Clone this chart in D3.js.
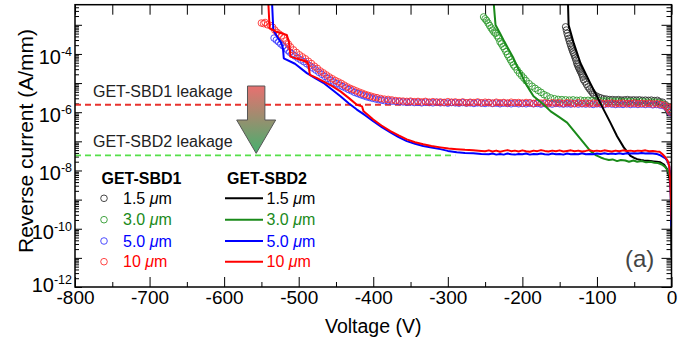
<!doctype html>
<html lang="en">
<head>
<meta charset="utf-8">
<title>Reverse current vs voltage</title>
<script src="https://d3js.org/d3.v7.min.js"></script>
<style>
  body { margin: 0; background: #fff; }
  svg text { font-family: "Liberation Sans", Arial, sans-serif; }
</style>
</head>
<body>
<div id="chart"></div>
<script>

// ---- data: [voltage (V), reverse current (A/mm)] ----

// GET-SBD1 (open circles)
var sbd1_15 = [[-142,8.5e-4],[-141,6.6e-4],[-140,5.1e-4],[-139,4.2e-4],[-138,3.4e-4],[-137,2.8e-4],[-136,2.3e-4],[-135,1.9e-4],
  [-134,1.6e-4],[-133,1.35e-4],[-132,1.15e-4],[-131,1.0e-4],[-130,8.5e-5],[-129,7.2e-5],[-128,6.0e-5],[-127,4.8e-5],[-126,4.2e-5],
  [-125,3.6e-5],[-124,3.2e-5],[-123,2.8e-5],[-122,2.5e-5],[-121,2.2e-5],[-120,1.9e-5],[-119,1.6e-5],[-118,1.3e-5],[-116,1.1e-5],
  [-114,9.0e-6],[-112,7.4e-6],[-110,6.3e-6],[-108,5.4e-6],[-106,4.6e-6],[-104,4.0e-6],[-101,3.6e-6],[-98,3.3e-6],[-95,3.1e-6],
  [-91,2.9e-6],[-87,2.8e-6],[-83,2.7e-6],[-79,2.7e-6],[-75,2.65e-6],[-71,2.7e-6],[-67,2.6e-6],[-63,2.65e-6],[-59,2.7e-6],
  [-55,2.6e-6],[-51,2.65e-6],[-47,2.6e-6],[-43,2.65e-6],[-39,2.55e-6],[-35,2.6e-6],[-31,2.55e-6],[-27,2.6e-6],[-23,2.5e-6],
  [-19,2.55e-6],[-16,2.3e-6],[-12,2.2e-6],[-8,1.8e-6],[-5,1.3e-6],[-3,1.0e-6]];

var sbd1_30 = [[-252,1.86e-3],[-250,1.6e-3],[-248,1.4e-3],[-246,1.15e-3],[-244,9.5e-4],[-242,7.8e-4],[-240,6.6e-4],[-238,5.6e-4],
  [-236,5.1e-4],[-234,4.2e-4],[-232,3.5e-4],[-230,2.6e-4],[-228,2.2e-4],[-226,1.8e-4],[-224,1.5e-4],[-222,1.2e-4],[-220,9.5e-5],
  [-218,7.8e-5],[-216,6.3e-5],[-214,5.2e-5],[-212,4.2e-5],[-210,3.6e-5],[-207,2.8e-5],[-204,2.2e-5],[-201,1.8e-5],[-198,1.48e-5],
  [-195,1.2e-5],[-191,9.5e-6],[-187,7.8e-6],[-183,6.6e-6],[-179,5.6e-6],[-175,4.8e-6],[-171,4.0e-6],[-167,3.6e-6],[-162,3.1e-6],
  [-157,2.9e-6],[-152,2.75e-6],[-147,2.7e-6],[-142,2.65e-6],[-137,2.6e-6],[-132,2.65e-6],[-127,2.55e-6],[-122,2.6e-6],[-117,2.5e-6],
  [-112,2.55e-6],[-107,2.5e-6],[-102,2.45e-6],[-97,2.5e-6],[-92,2.4e-6],[-87,2.45e-6],[-82,2.4e-6],[-77,2.35e-6],[-72,2.4e-6],
  [-67,2.35e-6],[-62,2.3e-6],[-57,2.35e-6],[-52,2.3e-6],[-47,2.25e-6],[-42,2.3e-6],[-37,2.25e-6],[-32,2.2e-6],[-27,2.25e-6],
  [-22,2.2e-6],[-17,2.1e-6],[-12,1.95e-6],[-7,1.6e-6],[-4,1.2e-6]];

var sbd1_50 = [[-533,3.5e-4],[-530,3.0e-4],[-527,2.6e-4],[-524,2.2e-4],[-521,1.9e-4],[-518,1.6e-4],[-515,1.35e-4],[-512,1.15e-4],
  [-509,1.0e-4],[-505,8.5e-5],[-501,7.2e-5],[-497,6.2e-5],[-493,5.4e-5],[-489,4.6e-5],[-485,3.9e-5],[-481,3.3e-5],[-477,2.8e-5],
  [-473,2.35e-5],[-469,2.0e-5],[-465,1.7e-5],[-461,1.45e-5],[-457,1.25e-5],[-453,1.08e-5],[-449,9.5e-6],[-445,8.5e-6],[-441,7.6e-6],
  [-437,6.8e-6],[-433,6.0e-6],[-429,5.4e-6],[-425,4.8e-6],[-421,4.4e-6],[-417,4.0e-6],[-413,3.7e-6],[-409,3.4e-6],[-405,3.2e-6],
  [-401,3.0e-6],[-397,2.85e-6],[-393,2.7e-6],[-389,2.6e-6],[-385,2.5e-6],[-380,2.45e-6],[-375,2.4e-6],[-370,2.35e-6],[-365,2.3e-6],
  [-360,2.25e-6],[-355,2.2e-6],[-350,2.25e-6],[-345,2.15e-6],[-340,2.2e-6],[-335,2.1e-6],[-330,2.2e-6],[-325,2.15e-6],[-320,2.1e-6],
  [-315,2.2e-6],[-310,2.1e-6],[-305,2.15e-6],[-300,2.05e-6],[-295,2.15e-6],[-290,2.1e-6],[-285,2.05e-6],[-280,2.15e-6],[-275,2.05e-6],
  [-270,2.1e-6],[-265,2.0e-6],[-260,2.1e-6],[-255,2.05e-6],[-250,2.0e-6],[-245,2.1e-6],[-240,2.0e-6],[-235,2.05e-6],[-230,1.95e-6],
  [-225,2.05e-6],[-220,2.0e-6],[-215,1.95e-6],[-210,2.05e-6],[-205,1.95e-6],[-200,2.0e-6],[-195,1.95e-6],[-190,2.05e-6],[-185,1.95e-6],
  [-180,2.0e-6],[-175,1.9e-6],[-170,2.0e-6],[-165,1.95e-6],[-160,1.9e-6],[-155,2.0e-6],[-150,1.95e-6],[-145,1.9e-6],[-140,1.95e-6],
  [-135,1.9e-6],[-130,2.0e-6],[-125,1.9e-6],[-120,1.95e-6],[-115,1.9e-6],[-110,1.95e-6],[-105,1.85e-6],[-100,1.95e-6],[-95,1.9e-6],
  [-90,1.85e-6],[-85,1.95e-6],[-80,1.9e-6],[-75,1.85e-6],[-70,1.9e-6],[-65,1.85e-6],[-60,1.95e-6],[-55,1.85e-6],[-50,1.9e-6],
  [-45,1.85e-6],[-40,1.9e-6],[-35,1.85e-6],[-30,1.9e-6],[-25,1.8e-6],[-20,1.85e-6],[-15,1.75e-6],[-10,1.65e-6],[-6,1.45e-6],
  [-3,1.15e-6],[-1,9.5e-7]];

var sbd1_10 = [[-550,1.15e-3],[-547,1.1e-3],[-545,1.2e-3],[-542,1.0e-3],[-538,9.5e-4],[-535,8.3e-4],[-532,6.6e-4],[-529,5.5e-4],
  [-526,4.8e-4],[-523,4.2e-4],[-520,3.5e-4],[-517,2.8e-4],[-514,2.2e-4],[-511,1.74e-4],[-507,1.38e-4],[-503,1.12e-4],[-499,9.3e-5],
  [-495,7.9e-5],[-491,6.8e-5],[-487,5.6e-5],[-483,4.7e-5],[-479,3.8e-5],[-475,3.2e-5],[-471,2.6e-5],[-467,2.24e-5],[-463,1.9e-5],
  [-459,1.62e-5],[-455,1.41e-5],[-451,1.23e-5],[-447,1.1e-5],[-443,9.8e-6],[-439,8.5e-6],[-435,7.4e-6],[-431,6.6e-6],[-427,6.0e-6],
  [-423,5.4e-6],[-419,4.9e-6],[-415,4.5e-6],[-411,4.1e-6],[-407,3.8e-6],[-403,3.55e-6],[-399,3.3e-6],[-395,3.16e-6],[-390,2.95e-6],
  [-385,2.8e-6],[-380,2.75e-6],[-375,2.63e-6],[-370,2.5e-6],[-365,2.45e-6],[-360,2.4e-6],[-355,2.35e-6],[-350,2.4e-6],[-345,2.3e-6],
  [-340,2.35e-6],[-335,2.25e-6],[-330,2.35e-6],[-325,2.2e-6],[-320,2.3e-6],[-315,2.2e-6],[-310,2.25e-6],[-305,2.15e-6],[-300,2.3e-6],
  [-295,2.2e-6],[-290,2.25e-6],[-285,2.15e-6],[-280,2.25e-6],[-275,2.1e-6],[-270,2.2e-6],[-265,2.15e-6],[-260,2.25e-6],[-255,2.1e-6],
  [-250,2.2e-6],[-245,2.15e-6],[-240,2.05e-6],[-235,2.2e-6],[-230,2.1e-6],[-225,2.15e-6],[-220,2.05e-6],[-215,2.2e-6],[-210,2.1e-6],
  [-205,2.15e-6],[-200,2.05e-6],[-195,2.15e-6],[-190,2.1e-6],[-185,2.0e-6],[-180,2.15e-6],[-175,2.05e-6],[-170,2.1e-6],[-165,2.0e-6],
  [-160,2.1e-6],[-155,2.05e-6],[-150,2.1e-6],[-145,2.0e-6],[-140,2.1e-6],[-135,2.05e-6],[-130,1.95e-6],[-125,2.1e-6],[-120,2.0e-6],
  [-115,2.05e-6],[-110,1.95e-6],[-105,2.05e-6],[-100,2.0e-6],[-95,2.05e-6],[-90,1.95e-6],[-85,2.0e-6],[-80,2.05e-6],[-75,1.95e-6],
  [-70,2.0e-6],[-65,2.05e-6],[-60,1.95e-6],[-55,2.0e-6],[-50,2.05e-6],[-45,1.95e-6],[-40,2.0e-6],[-35,1.95e-6],[-30,2.0e-6],
  [-25,1.9e-6],[-20,1.95e-6],[-15,1.85e-6],[-10,1.75e-6],[-6,1.5e-6],[-3,1.2e-6],[-1,1.0e-6]];

// GET-SBD2 (solid lines)
var sbd2_15 = [[-139,8e-3],[-138,9.8e-4],[-131,2.3e-4],[-122,4.8e-5],[-109,1.0e-5],[-100,3.55e-6],[-91,1.23e-6],[-82,4.4e-7],
  [-73,1.5e-7],[-64,6.2e-8],[-55,3.16e-8],[-50,2.7e-8],[-46,2.45e-8],[-41,2.3e-8],[-37,2.2e-8],[-32,2.15e-8],[-28,2.1e-8],
  [-24,2.05e-8],[-20,2.0e-8],[-15,1.9e-8],[-10,1.6e-8],[-6,1.12e-8],[-3,6e-9],[-1,2.3e-9],[0,1.05e-11]];

var sbd2_30 = [[-239,8e-3],[-236,9.8e-4],[-230,5.1e-4],[-224,2.6e-4],[-218,1.38e-4],[-212,7.2e-5],[-207,3.7e-5],[-201,1.9e-5],
  [-196,1.0e-5],[-190,5.6e-6],[-185,3.55e-6],[-173,2.0e-6],[-162,1.07e-6],[-151,6.9e-7],[-140,4.4e-7],[-129,2.0e-7],[-118,9.1e-8],
  [-109,4.7e-8],[-101,3.3e-8],[-95,2.8e-8],[-90,2.5e-8],[-84,2.3e-8],[-79,2.4e-8],[-73,2.1e-8],[-68,2.3e-8],[-62,2.2e-8],[-57,2.0e-8],
  [-51,2.2e-8],[-46,2.0e-8],[-40,2.1e-8],[-34,1.9e-8],[-28,2.0e-8],[-23,1.85e-8],[-18,1.8e-8],[-13,1.6e-8],[-9,1.35e-8],[-5,1.0e-8],
  [-3,7.5e-9],[-1,5e-9],[0,3e-9]];

var sbd2_50 = [[-536,8e-3],[-534,6.6e-4],[-528,3.6e-4],[-523,2.3e-4],[-521,1.5e-4],[-520,7.1e-5],[-505,4.6e-5],[-489,2.2e-5],
  [-478,1.48e-5],[-467,1.02e-5],[-455,5.9e-6],[-444,3.55e-6],[-433,2.04e-6],[-422,1.23e-6],[-411,7.9e-7],[-400,4.9e-7],[-388,3.0e-7],
  [-377,2.04e-7],[-366,1.4e-7],[-355,1.02e-7],[-344,8.3e-8],[-333,6.9e-8],[-320,6.0e-8],[-310,5.4e-8],[-300,4.7e-8],[-288,4.2e-8],
  [-277,4.0e-8],[-266,3.9e-8],[-255,3.7e-8],[-245,3.6e-8],[-240,3.8e-8],[-235,3.5e-8],[-230,3.7e-8],[-225,3.5e-8],[-220,3.8e-8],
  [-215,3.6e-8],[-210,3.5e-8],[-205,3.7e-8],[-200,3.6e-8],[-195,3.8e-8],[-190,3.5e-8],[-185,3.7e-8],[-180,3.6e-8],[-175,3.8e-8],
  [-170,3.6e-8],[-165,3.5e-8],[-160,3.8e-8],[-155,3.6e-8],[-150,3.7e-8],[-145,3.5e-8],[-140,3.8e-8],[-135,3.6e-8],[-130,3.7e-8],
  [-125,3.6e-8],[-120,3.9e-8],[-115,3.6e-8],[-110,3.7e-8],[-105,3.6e-8],[-100,3.8e-8],[-95,3.7e-8],[-90,3.9e-8],[-85,3.7e-8],
  [-80,3.8e-8],[-75,3.7e-8],[-70,3.9e-8],[-65,3.7e-8],[-60,3.9e-8],[-55,3.8e-8],[-50,3.9e-8],[-45,3.8e-8],[-40,4.0e-8],[-35,3.8e-8],
  [-30,3.9e-8],[-25,3.8e-8],[-20,3.7e-8],[-16,3.4e-8],[-12,3.0e-8],[-8,2.6e-8],[-5,2.0e-8],[-3,1.4e-8],[-2,7e-9],[-1,1.5e-9],
  [0,1.2e-10]];

var sbd2_10 = [[-541,8e-3],[-539,7.6e-4],[-530,5.8e-4],[-522,5.0e-4],[-516,4.5e-4],[-513,2.5e-4],[-511,8.1e-5],[-500,6.6e-5],
  [-489,5.4e-5],[-487,4.3e-5],[-485,1.9e-5],[-476,1.5e-5],[-467,1.15e-5],[-455,7.9e-6],[-444,5.2e-6],[-433,3.1e-6],[-422,1.8e-6],
  [-415,1.58e-6],[-413,1.07e-6],[-407,8.0e-7],[-400,5.6e-7],[-389,3.5e-7],[-377,2.24e-7],[-366,1.6e-7],[-355,1.17e-7],[-344,9.3e-8],
  [-333,7.9e-8],[-322,6.9e-8],[-310,6.2e-8],[-299,5.7e-8],[-288,5.4e-8],[-277,5.1e-8],[-266,4.9e-8],[-255,4.7e-8],[-250,4.6e-8],
  [-245,4.9e-8],[-240,4.5e-8],[-235,4.8e-8],[-230,4.4e-8],[-225,4.7e-8],[-220,5.0e-8],[-215,4.6e-8],[-210,4.8e-8],[-205,4.5e-8],
  [-200,4.9e-8],[-195,4.6e-8],[-190,4.4e-8],[-185,4.8e-8],[-180,4.6e-8],[-175,5.0e-8],[-170,4.7e-8],[-165,4.5e-8],[-160,4.8e-8],
  [-155,4.6e-8],[-150,4.9e-8],[-145,4.5e-8],[-140,4.7e-8],[-135,4.9e-8],[-130,4.6e-8],[-125,4.8e-8],[-120,4.5e-8],[-115,4.7e-8],
  [-110,5.0e-8],[-105,4.6e-8],[-100,4.8e-8],[-95,4.6e-8],[-90,4.9e-8],[-85,4.7e-8],[-80,4.5e-8],[-75,4.8e-8],[-70,4.6e-8],
  [-65,4.9e-8],[-60,4.7e-8],[-55,4.8e-8],[-50,4.6e-8],[-45,4.8e-8],[-40,4.7e-8],[-35,4.9e-8],[-30,4.6e-8],[-25,4.7e-8],[-20,4.5e-8],
  [-16,4.4e-8],[-12,3.6e-8],[-8,2.8e-8],[-5,2.1e-8],[-3,1.4e-8],[-2,6e-9],[-1,1.5e-9],[0,2e-10]];

// leakage reference levels
var leak1 = 1.8e-6;
var leak2 = 3.3e-8;

// ticks and legend labels
var xTicks = [-800, -700, -600, -500, -400, -300, -200, -100, 0];
var xMinorTicks = [-750, -650, -550, -450, -350, -250, -150, -50];
var yLabelExps = [-4, -6, -8, -10, -12];
var widths = ["1.5", "3.0", "5.0", "10"];
var colors = ["#000000", "#1a8a1a", "#0000ff", "#ff0000"];
var circleColors = ["#333333", "#2e9a2e", "#3a3aff", "#ff3030"];

// ---- chart ----
var svgW = 699, svgH = 343;
var plotL = 75, plotR = 671.5, plotT = 4.7, plotB = 287;

var svg = d3.select("#chart").append("svg")
    .attr("width", svgW)
    .attr("height", svgH);

var x = d3.scaleLinear().domain([-800, 0]).range([plotL, plotR]);
var y = d3.scaleLog().domain([1e-12, 4.9e-3]).range([plotB, plotT]);

svg.append("clipPath").attr("id", "plotclip")
  .append("rect")
    .attr("x", plotL).attr("y", plotT)
    .attr("width", plotR - plotL).attr("height", plotB - plotT);

// log ticks
var yMajor = [], yMinor = [];
for (var e = -12; e <= -3; e++) {
    yMajor.push(Math.pow(10, e));
    for (var k = 2; k <= 9; k++) {
        var v = k * Math.pow(10, e);
        if (v <= 4.9e-3) yMinor.push(v);
    }
}
var xTopTicks = xTicks.concat(xMinorTicks);

function styleAxis(g) {
    g.select(".domain").remove();
    g.selectAll(".tick line").attr("stroke", "#000").attr("stroke-width", 1);
}

// bottom axis with labels
svg.append("g")
    .attr("transform", "translate(0," + plotB + ")")
    .call(d3.axisBottom(x).tickValues(xTicks).tickSizeInner(-10).tickSizeOuter(0)
        .tickPadding(3).tickFormat(function(d) { return String(d); }))
    .call(styleAxis)
    .attr("font-size", 19)
    .attr("font-family", "Liberation Sans, Arial, sans-serif")
    .selectAll("text").attr("fill", "#000");

svg.append("g")
    .attr("transform", "translate(0," + plotB + ")")
    .call(d3.axisBottom(x).tickValues(xMinorTicks).tickSizeInner(-5).tickSizeOuter(0).tickFormat(""))
    .call(styleAxis);

// top axis
svg.append("g")
    .attr("transform", "translate(0," + plotT + ")")
    .call(d3.axisTop(x).tickValues(xTopTicks).tickSizeInner(-10).tickSizeOuter(0).tickFormat(""))
    .call(styleAxis);

// left axis
svg.append("g")
    .attr("transform", "translate(" + plotL + ",0)")
    .call(d3.axisLeft(y).tickValues(yMajor).tickSizeInner(-7).tickSizeOuter(0).tickFormat(""))
    .call(styleAxis);
svg.append("g")
    .attr("transform", "translate(" + plotL + ",0)")
    .call(d3.axisLeft(y).tickValues(yMinor).tickSizeInner(-4).tickSizeOuter(0).tickFormat(""))
    .call(styleAxis);

// right axis
svg.append("g")
    .attr("transform", "translate(" + plotR + ",0)")
    .call(d3.axisRight(y).tickValues(yMajor).tickSizeInner(-10).tickSizeOuter(0).tickFormat(""))
    .call(styleAxis);
svg.append("g")
    .attr("transform", "translate(" + plotR + ",0)")
    .call(d3.axisRight(y).tickValues(yMinor).tickSizeInner(-5).tickSizeOuter(0).tickFormat(""))
    .call(styleAxis);

// y tick labels 10^n
yLabelExps.forEach(function(ex) {
    var yy = Math.min(y(Math.pow(10, ex)) + 10, plotB + 5);
    var t = svg.append("text")
        .attr("x", 72).attr("y", yy)
        .attr("text-anchor", "end")
        .attr("fill", "#000");
    t.append("tspan").attr("font-size", 20).text("10");
    t.append("tspan").attr("font-size", 12.5).attr("dy", -8).text(String(ex));
});

// axis titles
svg.append("text")
    .attr("x", (plotL + plotR) / 2).attr("y", 333)
    .attr("text-anchor", "middle")
    .attr("font-size", 19.5)
    .text("Voltage (V)");

svg.append("text")
    .attr("transform", "translate(33,141) rotate(-90)")
    .attr("text-anchor", "middle")
    .attr("font-size", 21)
    .text("Reverse current (A/mm)");

// leakage dashed lines
var plot = svg.append("g").attr("clip-path", "url(#plotclip)");

plot.append("line")
    .attr("x1", x(-800)).attr("x2", x(0))
    .attr("y1", y(leak1)).attr("y2", y(leak1))
    .attr("stroke", "#e8322e").attr("stroke-width", 1.8)
    .attr("stroke-dasharray", "6,4");

plot.append("line")
    .attr("x1", x(-800)).attr("x2", x(-290))
    .attr("y1", y(leak2)).attr("y2", y(leak2))
    .attr("stroke", "#55e04a").attr("stroke-width", 1.8)
    .attr("stroke-dasharray", "6,4");

// circles (GET-SBD1)
var circleSets = [sbd1_15, sbd1_30, sbd1_50, sbd1_10];
circleSets.forEach(function(set, i) {
    plot.append("g").selectAll("circle")
        .data(set)
        .enter().append("circle")
        .attr("cx", function(d) { return x(d[0]); })
        .attr("cy", function(d) { return y(d[1]); })
        .attr("r", 3.3)
        .attr("fill", "none")
        .attr("stroke", circleColors[i])
        .attr("stroke-width", 0.9);
});

// lines (GET-SBD2)
var line = d3.line()
    .x(function(d) { return x(d[0]); })
    .y(function(d) { return y(d[1]); });

var lineSets = [sbd2_15, sbd2_30, sbd2_50, sbd2_10];
lineSets.forEach(function(set, i) {
    plot.append("path")
        .datum(set)
        .attr("d", line)
        .attr("fill", "none")
        .attr("stroke", colors[i])
        .attr("stroke-width", 2)
        .attr("stroke-linejoin", "round");
});

// arrow from SBD1 leakage to SBD2 leakage
var grad = svg.append("defs").append("linearGradient")
    .attr("id", "arrowGrad")
    .attr("x1", 0).attr("y1", 0).attr("x2", 0).attr("y2", 1);
grad.append("stop").attr("offset", "0%").attr("stop-color", "#e87070");
grad.append("stop").attr("offset", "100%").attr("stop-color", "#45b06e");

var ax = x(-557);
var aTop = 86, aNeck = 120, aTip = y(leak2) - 2;
svg.append("path")
    .attr("d", "M" + (ax - 8.7) + "," + aTop +
               " L" + (ax + 8.7) + "," + aTop +
               " L" + (ax + 8.7) + "," + aNeck +
               " L" + (ax + 19.5) + "," + aNeck +
               " L" + ax + "," + aTip +
               " L" + (ax - 19.5) + "," + aNeck +
               " L" + (ax - 8.7) + "," + aNeck + " Z")
    .attr("fill", "url(#arrowGrad)")
    .attr("stroke", "#555")
    .attr("stroke-width", 1);

// leakage labels
svg.append("text")
    .attr("x", 93).attr("y", 97)
    .attr("font-size", 16).attr("fill", "#222")
    .text("GET-SBD1 leakage");
svg.append("text")
    .attr("x", 93).attr("y", 147)
    .attr("font-size", 16).attr("fill", "#222")
    .text("GET-SBD2 leakage");

// legend
var rowY = [198.3, 219.7, 241, 261.7];
svg.append("text").attr("x", 101.5).attr("y", 183.5)
    .attr("font-size", 16).attr("font-weight", "bold").text("GET-SBD1");
svg.append("text").attr("x", 227).attr("y", 183.5)
    .attr("font-size", 16).attr("font-weight", "bold").text("GET-SBD2");

widths.forEach(function(w, i) {
    svg.append("circle")
        .attr("cx", 104).attr("cy", rowY[i]).attr("r", 3.3)
        .attr("fill", "none").attr("stroke", circleColors[i]).attr("stroke-width", 0.9);
    var t1 = svg.append("text").attr("x", 123).attr("y", rowY[i] + 5.5)
        .attr("font-size", 16).attr("fill", colors[i]);
    t1.append("tspan").text(w + " ");
    t1.append("tspan").attr("font-style", "italic").text("\u03bc");
    t1.append("tspan").text("m");

    svg.append("line")
        .attr("x1", 225).attr("x2", 263)
        .attr("y1", rowY[i]).attr("y2", rowY[i])
        .attr("stroke", colors[i]).attr("stroke-width", 2);
    var t2 = svg.append("text").attr("x", 266.5).attr("y", rowY[i] + 5.5)
        .attr("font-size", 16).attr("fill", colors[i]);
    t2.append("tspan").text(w + " ");
    t2.append("tspan").attr("font-style", "italic").text("\u03bc");
    t2.append("tspan").text("m");
});

// panel label
svg.append("text")
    .attr("x", 625).attr("y", 267)
    .attr("font-size", 24).attr("fill", "#444")
    .text("(a)");

// frame
svg.append("rect")
    .attr("x", plotL).attr("y", plotT)
    .attr("width", plotR - plotL).attr("height", plotB - plotT)
    .attr("fill", "none").attr("stroke", "#000").attr("stroke-width", 1.5);

</script>
</body>
</html>
